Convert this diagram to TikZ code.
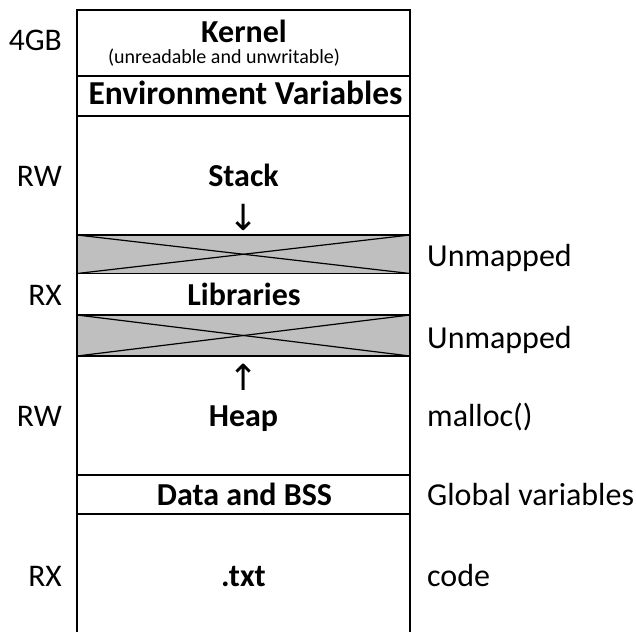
\documentclass[tikz,border=0pt]{standalone}
\usepackage{fontspec}
\setmainfont{Carlito}
\newfontfamily\arrowfont{DejaVu Sans}
\usetikzlibrary{positioning}

\begin{document}
\begin{tikzpicture}[
    x=1pt, y=-1pt,
    seg/.style={draw, line width=1.8pt, minimum width=333pt, inner sep=0pt, outer sep=0pt, anchor=north},
    holebox/.style={seg, fill=black!25},
    crossline/.style={line width=1.2pt},
    segtitle/.style={anchor=base, inner sep=0pt, font=\fontsize{32}{36}\selectfont\bfseries},
    segnote/.style={anchor=base, inner sep=0pt, font=\fontsize{20}{22}\selectfont},
    perm/.style={anchor=base east, inner sep=0pt, font=\fontsize{31.5}{36}\selectfont},
    usage/.style={anchor=base west, inner sep=0pt, font=\fontsize{32}{36}\selectfont},
    growarrow/.style={anchor=center, inner sep=0pt, font=\arrowfont\fontsize{36}{40}\selectfont}
]
\useasboundingbox (0,0) rectangle (636,632);

% Memory segments, top to bottom
\node[seg, minimum height=66pt] (kernel) at (243.5,10) {};
\node[seg, minimum height=40pt, below=0pt of kernel] (env) {};
\node[seg, minimum height=119pt, below=0pt of env] (stack) {};
\node[holebox, minimum height=38.5pt, below=0pt of stack] (holeA) {};
\node[seg, minimum height=41.5pt, below=0pt of holeA] (libs) {};
\node[holebox, minimum height=41pt, below=0pt of libs] (holeB) {};
\node[seg, minimum height=119pt, below=0pt of holeB] (heap) {};
\node[seg, minimum height=39pt, below=0pt of heap] (data) {};
\node[seg, draw=none, minimum height=118pt, below=0pt of data] (code) {};

% Open bottom segment
\draw[line width=1.8pt] (code.north west) -- (code.south west);
\draw[line width=1.8pt] (code.north east) -- (code.south east);

% Unmapped holes
\draw[crossline] (holeA.north west) -- (holeA.south east);
\draw[crossline] (holeA.south west) -- (holeA.north east);
\draw[crossline] (holeB.north west) -- (holeB.south east);
\draw[crossline] (holeB.south west) -- (holeB.north east);

% Segment names
\node[segtitle] (kerneltxt) at (244,42) {Kernel};
\node[segnote] (kernelnote) at (224,63) {(unreadable and unwritable)};
\node[segtitle, font=\fontsize{33.5}{36}\selectfont\bfseries] (envtxt) at (245.5,104) {Environment Variables};
\node[segtitle] (stacktxt) at (243.5,186) {Stack};
\node[growarrow] (down) at (243.5,217) {↓};
\node[segtitle] (libstxt) at (244,305) {Libraries};
\node[growarrow] (up) at (243.5,377) {↑};
\node[segtitle] (heaptxt) at (243.5,426) {Heap};
\node[segtitle] (datatxt) at (244.5,505) {Data and BSS};
\node[segtitle] (codetxt) at (243.5,586) {.txt};

% Permissions
\node[perm] (top) at (62,50) {4GB};
\node[perm] (stackperm) at (62,186) {RW};
\node[perm] (libsperm) at (62,305) {RX};
\node[perm] (heapperm) at (62,426) {RW};
\node[perm] (codeperm) at (62,586) {RX};

% Usage
\node[usage] (holeAuse) at (427,266) {Unmapped};
\node[usage] (holeBuse) at (427,348) {Unmapped};
\node[usage] (heapuse) at (427,426) {malloc()};
\node[usage] (datause) at (427,505) {Global variables};
\node[usage] (codeuse) at (427,586) {code};

\end{tikzpicture}
\end{document}
